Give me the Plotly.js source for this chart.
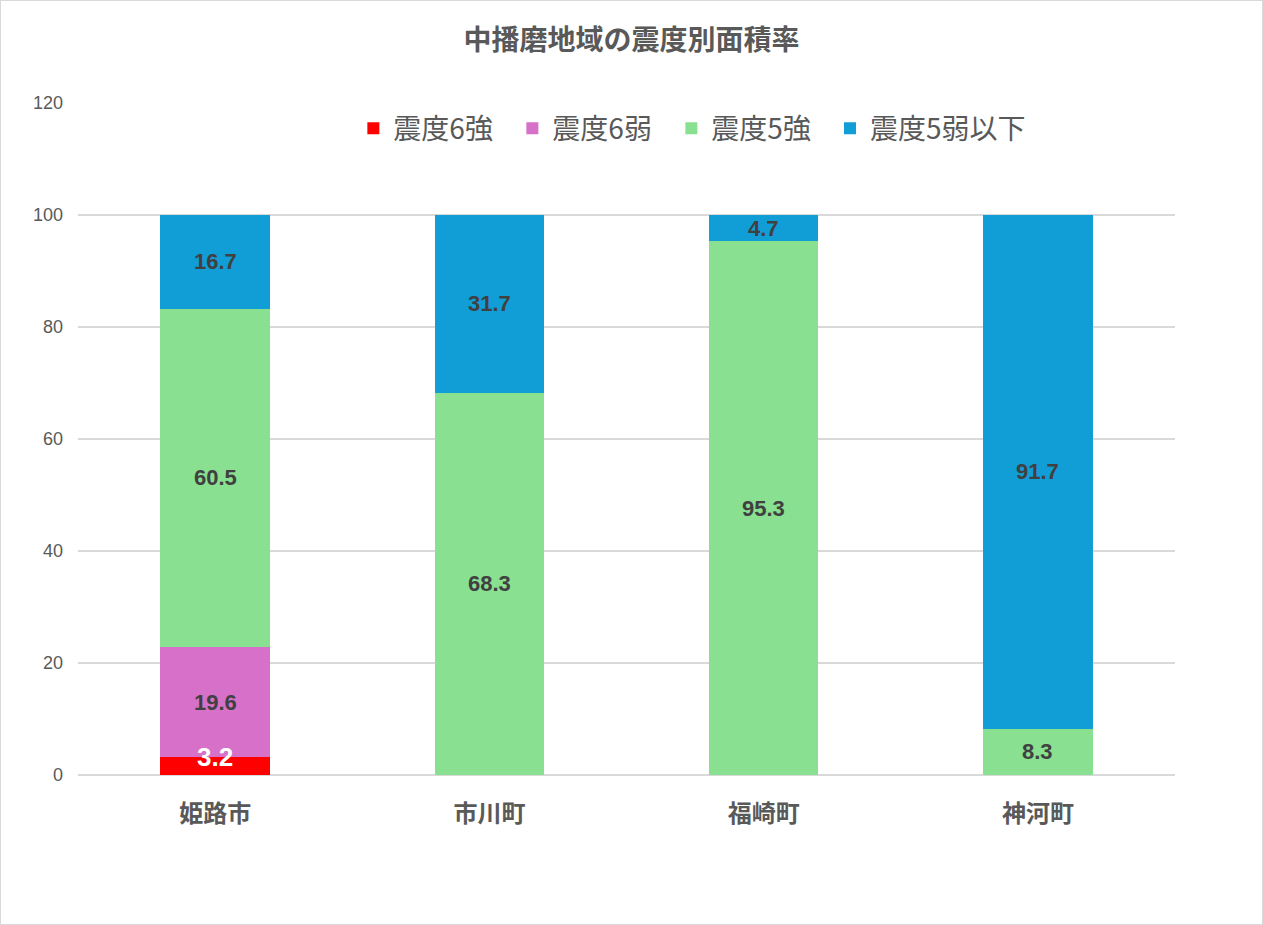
<!DOCTYPE html>
<html>
<head>
<meta charset="utf-8">
<script src="https://cdn.plot.ly/plotly-3.0.1.min.js"></script>
<style>
html,body{margin:0;padding:0;background:#fff;}
#chart{width:1263px;height:925px;box-sizing:border-box;border:1px solid #d9d9d9;}
</style>
</head>
<body>
<div id="chart"></div>
<script>
const categories = ["姫路市", "市川町", "福崎町", "神河町"];
const seriesNames = ["震度6強", "震度6弱", "震度5強", "震度5弱以下"];
const shindo6Strong = [3.2, 0, 0, 0];
const shindo6Weak = [19.6, 0, 0, 0];
const shindo5Strong = [60.5, 68.3, 95.3, 8.3];
const shindo5WeakBelow = [16.7, 31.7, 4.7, 91.7];
const yTicks = [0, 20, 40, 60, 80, 100, 120];

const seriesValues = [shindo6Strong, shindo6Weak, shindo5Strong, shindo5WeakBelow];
const colors = ["#FF0000", "#D670C8", "#88E090", "#119ED6"];
const font = "'Noto Sans CJK JP', 'Noto Sans', sans-serif";

const traces = seriesValues.map((vals, i) => ({
  type: "bar",
  name: seriesNames[i],
  x: categories,
  y: vals,
  marker: {color: colors[i]},
  legend: i === 3 ? "legend2" : "legend",
  hoverinfo: "skip"
}));

const annotations = [];
const cum = categories.map(() => 0);
seriesValues.forEach((vals, i) => {
  vals.forEach((v, j) => {
    if (v > 0) {
      const isRed = i === 0;
      annotations.push({
        x: categories[j],
        y: cum[j] + v / 2,
        xref: "x", yref: "y",
        text: "<b>" + v.toFixed(1) + "</b>",
        showarrow: false,
        yshift: isRed ? 9 : 0,
        font: {family: "'Liberation Sans', Arial, sans-serif", size: isRed ? 26 : 22, color: isRed ? "#ffffff" : "#404040"}
      });
    }
    cum[j] += v;
  });
});

const legendBase = {
  orientation: "h",
  xanchor: "left",
  y: 0.962, yanchor: "middle",
  traceorder: "normal",
  font: {family: font, size: 28, color: "#595959"},
  itemwidth: 30,
  bgcolor: "rgba(0,0,0,0)"
};

const layout = {
  width: 1261, height: 923,
  paper_bgcolor: "#ffffff",
  plot_bgcolor: "#ffffff",
  margin: {l: 77, r: 87, t: 102, b: 149},
  barmode: "stack",
  bargap: 0.6,
  showlegend: true,
  title: {
    text: "<b>中播磨地域の震度別面積率</b>",
    font: {family: font, size: 28, color: "#595959"},
    x: 0.5, xanchor: "center", y: 0.958, yanchor: "middle"
  },
  legend: Object.assign({}, legendBase, {x: 0.251, entrywidth: 114, entrywidthmode: "pixels"}),
  legend2: Object.assign({}, legendBase, {x: 0.6855}),
  xaxis: {
    type: "category",
    tickvals: categories,
    ticktext: categories.map(c => "<b>" + c + "</b>"),
    tickfont: {family: font, size: 24, color: "#595959"},
    ticks: "",
    ticklabelstandoff: 22,
    showline: false,
    showgrid: false,
    fixedrange: true
  },
  yaxis: {
    range: [0, 120],
    tickvals: yTicks,
    ticktext: yTicks.map(String),
    tickfont: {family: "'Liberation Sans', Arial, sans-serif", size: 18, color: "#595959"},
    gridcolor: "#d9d9d9",
    gridwidth: 1.3,
    zeroline: true,
    zerolinecolor: "#d9d9d9",
    zerolinewidth: 1.3,
    showline: false,
    ticks: "",
    ticklabelstandoff: 14,
    fixedrange: true
  },
  annotations: annotations,
  font: {family: font}
};

Plotly.newPlot("chart", traces, layout, {displayModeBar: false, staticPlot: true});
</script>
</body>
</html>
